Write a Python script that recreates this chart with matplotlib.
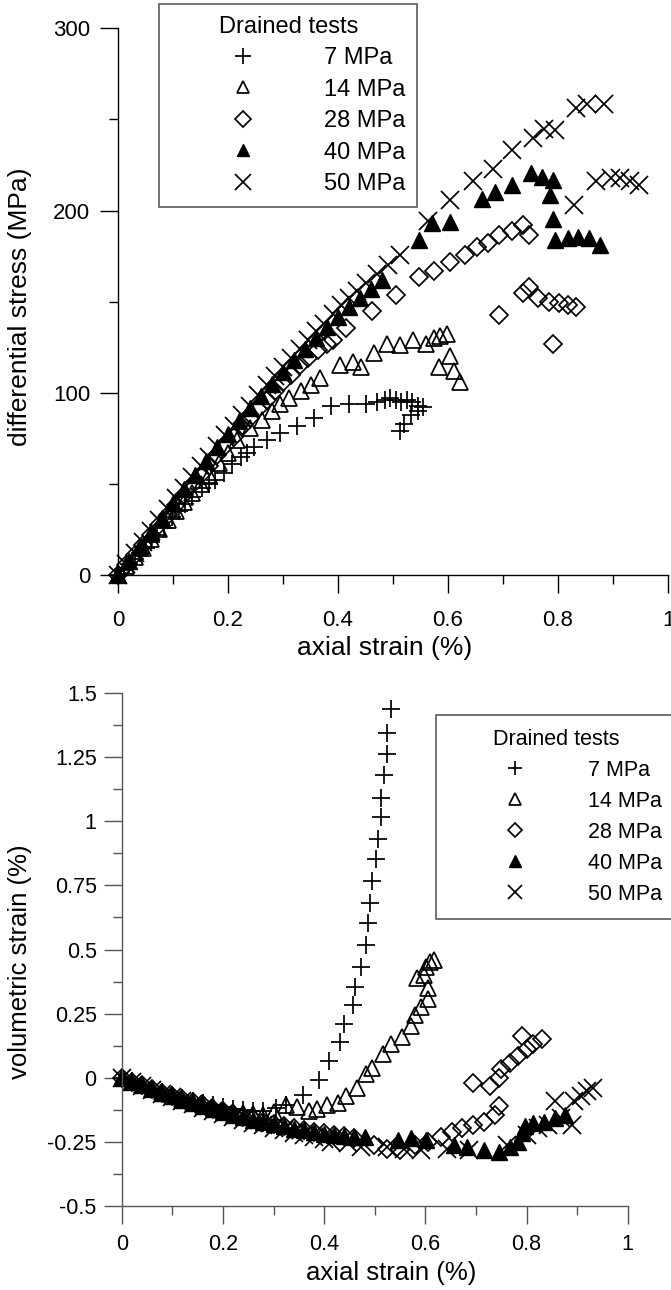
import matplotlib.pyplot as plt
from matplotlib.ticker import MultipleLocator
from matplotlib.lines import Line2D

plt.rcParams['font.family'] = ['Liberation Sans', 'DejaVu Sans']

# ---- stress vs axial strain (top) ----
t7_x = [0, 0.01, 0.02, 0.03, 0.04, 0.05, 0.06, 0.07, 0.083, 0.098, 0.11, 0.122, 0.135, 0.153, 0.165,
        0.176, 0.192, 0.208, 0.223, 0.235, 0.247, 0.27, 0.294, 0.325, 0.356, 0.387, 0.42, 0.45, 0.47,
        0.485, 0.495, 0.505, 0.515, 0.525, 0.535, 0.545, 0.555, 0.513, 0.52, 0.532, 0.545]
t7_y = [0, 3, 6, 9, 12, 15, 18, 22, 26, 32, 35, 39, 43, 48, 50, 52, 56, 61, 65, 67, 70, 74, 78, 82, 86,
        92.5, 94, 94, 95, 96, 97, 96, 95, 96, 95, 93, 92, 79, 83, 88, 90]

t14_x = [0, 0.015, 0.03, 0.045, 0.06, 0.075, 0.09, 0.105, 0.12, 0.135, 0.15, 0.165, 0.184, 0.2, 0.216,
         0.24, 0.262, 0.28, 0.294, 0.31, 0.333, 0.35, 0.368, 0.403, 0.427, 0.442, 0.466, 0.489, 0.513,
         0.536, 0.56, 0.575, 0.585, 0.599, 0.603, 0.583, 0.61, 0.622]
t14_y = [0, 5, 10, 15, 20, 25, 30, 35, 40, 45, 50, 55, 61.5, 67, 74, 80.7, 85, 90, 94, 97, 100.7, 104,
         108, 115, 117, 114, 122, 127, 126, 129, 127, 130, 131, 132, 120, 114, 112, 106]

t28_x = [0, 0.015, 0.03, 0.045, 0.06, 0.075, 0.09, 0.105, 0.12, 0.135, 0.15, 0.165, 0.18, 0.195, 0.21,
         0.225, 0.24, 0.255, 0.27, 0.285, 0.3, 0.315, 0.33, 0.345, 0.364, 0.38, 0.391, 0.415, 0.462,
         0.505, 0.548, 0.575, 0.603, 0.63, 0.653, 0.673, 0.692, 0.716, 0.736, 0.747, 0.692, 0.736,
         0.747, 0.763, 0.783, 0.79, 0.802, 0.818, 0.833]
t28_y = [0, 5.5, 11, 16.5, 22, 27.5, 33, 38.5, 44, 49.5, 55, 60, 66, 71, 76, 81, 86, 91, 96, 101, 106,
         110, 115, 119, 123.5, 127, 129, 135.3, 145, 153.6, 163.6, 167, 171.9, 175.5, 180, 182, 186.5,
         189, 192, 186.5, 142.6, 154.5, 158, 151.8, 150, 127, 149, 148, 147]

t40_x = [0, 0.02, 0.04, 0.06, 0.08, 0.10, 0.12, 0.14, 0.16, 0.18, 0.20, 0.22, 0.24, 0.26, 0.28, 0.30,
         0.32, 0.34, 0.36, 0.38, 0.40, 0.42, 0.44, 0.46, 0.48, 0.548, 0.571, 0.603, 0.661, 0.685, 0.716,
         0.751, 0.771, 0.79, 0.786, 0.79, 0.794, 0.818, 0.837, 0.857, 0.876]
t40_y = [0, 7.9, 15.8, 23.7, 31.5, 39.3, 47, 54.7, 62.3, 70, 77.5, 84.5, 91.5, 98.5, 105, 111.5, 118,
         124, 130, 136, 141.5, 147, 152, 157, 162, 183.8, 193, 193.8, 206.6, 210, 214, 220.5, 218.5,
         216.7, 208.5, 195.6, 183.7, 184.7, 185.6, 184.7, 181]

t50_x = [0, 0.015, 0.03, 0.045, 0.06, 0.075, 0.09, 0.105, 0.12, 0.135, 0.15, 0.165, 0.18, 0.195, 0.21,
         0.225, 0.24, 0.255, 0.27, 0.285, 0.3, 0.315, 0.33, 0.345, 0.36, 0.375, 0.39, 0.405, 0.42, 0.435,
         0.45, 0.47, 0.49, 0.513, 0.564, 0.603, 0.646, 0.681, 0.716, 0.755, 0.775, 0.794, 0.833, 0.853,
         0.884, 0.829, 0.869, 0.896, 0.912, 0.931, 0.947]
t50_y = [0, 6, 12, 18, 24, 30, 36, 42, 48, 54, 60, 65, 71, 77, 82, 88, 93, 99, 104, 109, 114, 119, 124,
         129, 134, 138, 143, 148, 152, 156, 160, 165, 170, 175.5, 194, 206, 216, 223, 233, 240, 245,
         244, 256, 258.7, 258.7, 203, 216, 218, 217.6, 216, 214]

# ---- volumetric strain vs axial strain (bottom) ----
b7_x = [0, 0.02, 0.04, 0.06, 0.08, 0.1, 0.12, 0.14, 0.16, 0.18, 0.2, 0.22, 0.24, 0.26, 0.28, 0.304,
        0.325, 0.359, 0.389, 0.41, 0.431, 0.44, 0.457, 0.461, 0.472, 0.482, 0.486, 0.49, 0.495, 0.503,
        0.506, 0.512, 0.513, 0.518, 0.524, 0.524, 0.533]
b7_y = [0, -0.014, -0.028, -0.042, -0.055, -0.068, -0.08, -0.09, -0.1, -0.108, -0.115, -0.121, -0.126,
        -0.13, -0.13, -0.118, -0.105, -0.066, -0.007, 0.066, 0.138, 0.21, 0.282, 0.354, 0.433, 0.518,
        0.604, 0.682, 0.768, 0.853, 0.932, 1.015, 1.089, 1.181, 1.262, 1.345, 1.437]

b14_x = [0, 0.02, 0.04, 0.06, 0.08, 0.1, 0.12, 0.14, 0.16, 0.18, 0.2, 0.22, 0.24, 0.26, 0.28, 0.3,
         0.325, 0.346, 0.371, 0.385, 0.405, 0.427, 0.443, 0.465, 0.482, 0.495, 0.516, 0.533, 0.554,
         0.571, 0.58, 0.592, 0.605, 0.605, 0.583, 0.597, 0.601, 0.609, 0.618]
b14_y = [0, -0.014, -0.028, -0.042, -0.056, -0.069, -0.082, -0.094, -0.105, -0.115, -0.124, -0.132,
         -0.138, -0.143, -0.145, -0.135, -0.108, -0.115, -0.131, -0.12, -0.105, -0.098, -0.072, -0.039,
         0.013, 0.039, 0.092, 0.131, 0.157, 0.203, 0.243, 0.276, 0.308, 0.348, 0.39, 0.4, 0.433, 0.453,
         0.459]

b28_x = [0, 0.02, 0.04, 0.06, 0.08, 0.1, 0.12, 0.14, 0.16, 0.18, 0.2, 0.22, 0.24, 0.26, 0.28, 0.3,
         0.32, 0.34, 0.36, 0.38, 0.4, 0.42, 0.44, 0.46, 0.499, 0.524, 0.55, 0.58, 0.605, 0.631, 0.652,
         0.673, 0.694, 0.716, 0.737, 0.746, 0.694, 0.728, 0.746, 0.75, 0.767, 0.784, 0.801, 0.813,
         0.792, 0.83]
b28_y = [0, -0.015, -0.03, -0.044, -0.058, -0.071, -0.084, -0.096, -0.108, -0.12, -0.131, -0.142,
         -0.152, -0.162, -0.171, -0.18, -0.188, -0.196, -0.203, -0.21, -0.216, -0.222, -0.228, -0.234,
         -0.262, -0.276, -0.282, -0.262, -0.249, -0.23, -0.21, -0.197, -0.184, -0.171, -0.144, -0.111,
         -0.02, -0.033, 0.0, 0.033, 0.059, 0.085, 0.112, 0.131, 0.164, 0.151]

b40_x = [0, 0.02, 0.04, 0.06, 0.08, 0.1, 0.12, 0.14, 0.16, 0.18, 0.2, 0.22, 0.24, 0.26, 0.28, 0.3,
         0.32, 0.34, 0.36, 0.38, 0.4, 0.42, 0.44, 0.46, 0.48, 0.546, 0.571, 0.601, 0.656, 0.682, 0.716,
         0.746, 0.767, 0.784, 0.792, 0.797, 0.813, 0.835, 0.856, 0.877]
b40_y = [0, -0.015, -0.03, -0.044, -0.058, -0.072, -0.085, -0.098, -0.11, -0.122, -0.133, -0.144,
         -0.154, -0.164, -0.173, -0.182, -0.19, -0.198, -0.205, -0.212, -0.218, -0.223, -0.227, -0.23,
         -0.232, -0.243, -0.236, -0.243, -0.262, -0.269, -0.282, -0.289, -0.269, -0.249, -0.217, -0.19,
         -0.177, -0.171, -0.157, -0.144]

b50_x = [0, 0.02, 0.04, 0.06, 0.08, 0.1, 0.12, 0.14, 0.16, 0.18, 0.2, 0.22, 0.24, 0.26, 0.28, 0.3,
         0.32, 0.34, 0.36, 0.38, 0.4, 0.414, 0.448, 0.473, 0.524, 0.558, 0.592, 0.643, 0.686, 0.762,
         0.801, 0.822, 0.843, 0.869, 0.89, 0.856, 0.894, 0.907, 0.92, 0.932]
b50_y = [0, -0.016, -0.032, -0.047, -0.062, -0.076, -0.09, -0.104, -0.117, -0.13, -0.142, -0.154,
         -0.165, -0.176, -0.186, -0.196, -0.205, -0.214, -0.222, -0.23, -0.238, -0.249, -0.256, -0.269,
         -0.269, -0.276, -0.282, -0.276, -0.282, -0.262, -0.223, -0.197, -0.184, -0.157, -0.184, -0.092,
         -0.092, -0.072, -0.052, -0.039]

labels = ['7 MPa', '14 MPa', '28 MPa', '40 MPa', '50 MPa']
styles = [dict(marker='+', ms=13, mew=1.25, color='black'),
          dict(marker='^', ms=11, mew=1.25, mfc='none', mec='black'),
          dict(marker='D', ms=9, mew=1.25, mfc='none', mec='black'),
          dict(marker='^', ms=11, mew=1.0, mfc='black', mec='black'),
          dict(marker='x', ms=13, mew=1.25, color='black')]

fig = plt.figure(figsize=(6.71, 12.9), dpi=100)
W, H = 671, 1290

ax1 = fig.add_axes([118 / W, 1 - 575 / H, 550 / W, (575 - 28.3) / H])
ax2 = fig.add_axes([121.7 / W, 1 - 1206 / H, 506 / W, (1206 - 693) / H])

top = [(t7_x, t7_y), (t14_x, t14_y), (t28_x, t28_y), (t40_x, t40_y), (t50_x, t50_y)]
bot = [(b7_x, b7_y), (b14_x, b14_y), (b28_x, b28_y), (b40_x, b40_y), (b50_x, b50_y)]
for (x, y), st in zip(top, styles):
    ax1.plot(x, y, ls='none', clip_on=False, **st)
for (x, y), st in zip(bot, styles):
    ax2.plot(x, y, ls='none', clip_on=False, **st)

for ax, spc in ((ax1, 'black'), (ax2, '#555555')):
    for s in ('top', 'right'):
        ax.spines[s].set_visible(False)
    for s in ('left', 'bottom'):
        ax.spines[s].set_color(spc)
        ax.spines[s].set_linewidth(1.0)
    ax.set_xlim(0, 1)
    ax.xaxis.set_minor_locator(MultipleLocator(0.1))
    ax.tick_params(which='major', direction='out', length=13, width=1.0, color=spc)
    ax.tick_params(which='minor', direction='out', length=6.5, width=1.0, color=spc)

# top axes
ax1.set_ylim(0, 300)
ax1.set_yticks([0, 100, 200, 300])
ax1.yaxis.set_minor_locator(MultipleLocator(50))
ax1.set_xticks([0, 0.2, 0.4, 0.6, 0.8, 1.0])
ax1.set_xticklabels(['0', '0.2', '0.4', '0.6', '0.8', '1'])
ax1.tick_params(axis='y', which='major', labelsize=16, pad=7)
ax1.tick_params(axis='x', which='major', labelsize=16, pad=12)
ax1.set_xlabel('axial strain (%)', fontsize=19, va='center')
ax1.xaxis.set_label_coords(0.485, (575 - 648) / 546.7)
ax1.set_ylabel('differential stress (MPa)', fontsize=19, va='center')
ax1.yaxis.set_label_coords((20 - 118) / 550, (575 - 307) / 546.7)

# bottom axes
ax2.set_ylim(-0.5, 1.5)
yt = [-0.5, -0.25, 0, 0.25, 0.5, 0.75, 1, 1.25, 1.5]
ax2.set_yticks(yt)
ax2.set_yticklabels(['-0.5', '-0.25', '0', '0.25', '0.5', '0.75', '1', '1.25', '1.5'])
ax2.yaxis.set_minor_locator(MultipleLocator(0.125))
ax2.set_xticks([0, 0.2, 0.4, 0.6, 0.8, 1.0])
ax2.set_xticklabels(['0', '0.2', '0.4', '0.6', '0.8', '1'])
ax2.tick_params(axis='y', which='major', labelsize=15.5, pad=5)
ax2.tick_params(axis='x', which='major', labelsize=15.5, pad=7)
ax2.set_xlabel('axial strain (%)', fontsize=18.5, va='center')
ax2.xaxis.set_label_coords((391.5 - 121.7) / 506, (1206 - 1273) / 513)
ax2.set_ylabel('volumetric strain (%)', fontsize=18.5, va='center')
ax2.yaxis.set_label_coords((20 - 121.7) / 506, (1206 - 962) / 513)

# legends
def handles(scale):
    hs = []
    for st in styles:
        d = dict(st)
        d['ms'] = d['ms'] * scale
        hs.append(Line2D([], [], ls='none', **d))
    return hs

leg1 = ax1.legend(handles(0.85), labels, title='Drained tests', loc='upper left',
                  bbox_to_anchor=(159 / W, 1 - 4 / H), bbox_transform=fig.transFigure,
                  fontsize=17, title_fontsize=17, frameon=True, fancybox=False,
                  borderpad=0.5, handlelength=6.1, handletextpad=0.4, labelspacing=0.4,
                  borderaxespad=0)
leg1.get_frame().set_edgecolor('#333333')
leg1.get_frame().set_linewidth(1.2)

leg2 = ax2.legend(handles(0.75), labels, title='Drained tests', loc='upper left',
                  bbox_to_anchor=(436 / W, 1 - 715 / H), bbox_transform=fig.transFigure,
                  fontsize=15.5, title_fontsize=15.5, frameon=True, fancybox=False,
                  borderpad=0.65, handlelength=6.0, handletextpad=0.4, labelspacing=0.46,
                  borderaxespad=0)
leg2.get_frame().set_edgecolor('#333333')
leg2.get_frame().set_linewidth(1.2)

fig.savefig('out.png', dpi=100)
